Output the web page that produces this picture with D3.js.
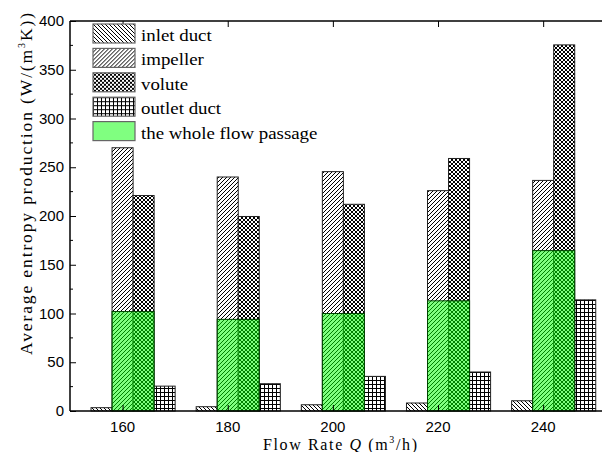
<!DOCTYPE html>
<html>
<head>
<meta charset="utf-8">
<script src="https://cdn.jsdelivr.net/npm/d3@7"></script>
<style>
    body { margin: 0; background: #fff; }
    svg { display: block; }
</style>
</head>
<body>
<svg id="chart" width="602" height="452"></svg>
<script>
/**
 * Chart data
 */
var flowRates = [160, 180, 200, 220, 240];
var inletDuct = [3.4, 4.4, 6.4, 8.2, 10.5];
var impeller = [270, 240, 245.5, 226, 236.5];
var volute = [221, 199.5, 212, 259, 375.5];
var outletDuct = [25.5, 28, 35.5, 40, 114];
var wholePassage = [102, 94, 100, 113, 164.5];
var yTicks = [0, 50, 100, 150, 200, 250, 300, 350, 400];
var legendLabels = ["inlet duct", "impeller", "volute", "outlet duct", "the whole flow passage"];

window.onload = function(){
    drawChart();
};

function drawChart(){
    let svg = d3.select("#chart");

    let left = 70, right = 601, top = 21, bottom = 411;

    // x is flow rate, bars are offset in flow-rate units
    let xScale = d3.scaleLinear()
        .domain([150, 251])
        .range([left, right]);

    let yScale = d3.scaleLinear()
        .domain([0, 400])
        .range([bottom, top]);

    makePatterns(svg);

    // each series: offset of left edge from the category value, bar width 4 units
    let series = [
        {values: inletDuct, offset: -6, fill: "url(#pInlet)"},
        {values: impeller, offset: -2, fill: "url(#pImpeller)"},
        {values: volute, offset: 2, fill: "url(#pVolute)"},
        {values: outletDuct, offset: 6, fill: "url(#pOutlet)"}
    ];
    let barW = 4;

    series.forEach(function(s){
        svg.append("g").selectAll("rect")
            .data(s.values)
            .enter()
            .append("rect")
            .attr("x", function(d, i){ return xScale(flowRates[i] + s.offset); })
            .attr("y", function(d){ return yScale(d); })
            .attr("width", function(d, i){
                return xScale(flowRates[i] + s.offset + barW) - xScale(flowRates[i] + s.offset);
            })
            .attr("height", function(d){ return yScale(0) - yScale(d); })
            .style("fill", s.fill)
            .style("stroke", "#222")
            .style("stroke-width", 1);
    });

    // the whole flow passage, semi transparent green over impeller + volute
    svg.append("g").selectAll("rect")
        .data(wholePassage)
        .enter()
        .append("rect")
        .attr("x", function(d, i){ return xScale(flowRates[i] - 2); })
        .attr("y", function(d){ return yScale(d); })
        .attr("width", function(d, i){ return xScale(flowRates[i] + 6) - xScale(flowRates[i] - 2); })
        .attr("height", function(d){ return yScale(0) - yScale(d); })
        .style("fill", "#00ff00")
        .style("fill-opacity", 0.5)
        .style("stroke", "#004400")
        .style("stroke-width", 1);

    drawAxes(svg, xScale, yScale, left, right, top, bottom);
    drawLegend(svg);
}

function makePatterns(svg){
    let defs = svg.append("defs");
    let s = 4;

    let p1 = defs.append("pattern").attr("id", "pInlet")
        .attr("patternUnits", "userSpaceOnUse").attr("width", s).attr("height", s);
    p1.append("rect").attr("width", s).attr("height", s).attr("fill", "#fff");
    p1.append("path").attr("d", "M-1,-1 l2,2 M0,0 l4,4 M3,3 l2,2")
        .attr("stroke", "#000").attr("stroke-width", 1);

    let p2 = defs.append("pattern").attr("id", "pImpeller")
        .attr("patternUnits", "userSpaceOnUse").attr("width", s).attr("height", s);
    p2.append("rect").attr("width", s).attr("height", s).attr("fill", "#fff");
    p2.append("path").attr("d", "M-1,1 l2,-2 M0,4 l4,-4 M3,5 l2,-2")
        .attr("stroke", "#000").attr("stroke-width", 1);

    let p3 = defs.append("pattern").attr("id", "pVolute")
        .attr("patternUnits", "userSpaceOnUse").attr("width", s).attr("height", s);
    p3.append("rect").attr("width", s).attr("height", s).attr("fill", "#fff");
    p3.append("path").attr("d", "M-1,-1 l2,2 M0,0 l4,4 M3,3 l2,2 M-1,1 l2,-2 M0,4 l4,-4 M3,5 l2,-2")
        .attr("stroke", "#000").attr("stroke-width", 1);

    let p4 = defs.append("pattern").attr("id", "pOutlet")
        .attr("patternUnits", "userSpaceOnUse").attr("width", s).attr("height", s);
    p4.append("rect").attr("width", s).attr("height", s).attr("fill", "#fff");
    p4.append("path").attr("d", "M0,0.5 h4 M0.5,0 v4")
        .attr("stroke", "#000").attr("stroke-width", 1);
}

function drawAxes(svg, xScale, yScale, left, right, top, bottom){
    // y axis with inward ticks
    let yAxis = d3.axisRight(yScale)
        .tickValues(yTicks)
        .tickSize(6)
        .tickFormat("");
    let yg = svg.append("g").attr("transform", `translate(${left},0)`).call(yAxis);
    yg.select(".domain").remove();

    let minor = d3.range(25, 400, 50);
    svg.append("g").selectAll("line")
        .data(minor)
        .enter()
        .append("line")
        .attr("x1", left).attr("x2", left + 3)
        .attr("y1", function(d){ return yScale(d); })
        .attr("y2", function(d){ return yScale(d); })
        .style("stroke", "#000");

    svg.append("g").selectAll("text")
        .data(yTicks)
        .enter()
        .append("text")
        .attr("x", left - 6)
        .attr("y", function(d){ return yScale(d) + 5; })
        .attr("text-anchor", "end")
        .style("font-family", "'Liberation Sans', Arial, sans-serif")
        .style("font-size", "15px")
        .text(function(d){ return d; });

    // bottom axis with inward ticks
    let xg = svg.append("g").attr("transform", `translate(0,${bottom})`)
        .call(d3.axisTop(xScale).tickValues(flowRates).tickSize(6).tickFormat(""));
    xg.select(".domain").remove();

    // top axis ticks
    let tg = svg.append("g").attr("transform", `translate(0,${top})`)
        .call(d3.axisBottom(xScale).tickValues(flowRates).tickSize(6).tickFormat(""));
    tg.select(".domain").remove();

    svg.append("g").selectAll("text")
        .data(flowRates)
        .enter()
        .append("text")
        .attr("x", function(d){ return xScale(d); })
        .attr("y", bottom + 21)
        .attr("text-anchor", "middle")
        .style("font-family", "'Liberation Sans', Arial, sans-serif")
        .style("font-size", "15px")
        .text(function(d){ return d; });

    // frame lines
    svg.append("line").attr("x1", left).attr("x2", left).attr("y1", top).attr("y2", bottom)
        .style("stroke", "#000").style("stroke-width", 1.5);
    svg.append("line").attr("x1", left).attr("x2", 602).attr("y1", bottom).attr("y2", bottom)
        .style("stroke", "#000").style("stroke-width", 1.5);
    svg.append("line").attr("x1", left).attr("x2", 602).attr("y1", top).attr("y2", top)
        .style("stroke", "#000").style("stroke-width", 1.5);

    // axis titles (spread out like the original serif text)
    let xt = svg.append("text")
        .attr("x", 263)
        .attr("y", 450)
        .attr("textLength", 154)
        .attr("lengthAdjust", "spacing")
        .style("font-family", "'Liberation Serif', 'Times New Roman', serif")
        .style("font-size", "16px");
    xt.append("tspan").text("Flow Rate ");
    xt.append("tspan").style("font-style", "italic").text("Q");
    xt.append("tspan").text(" (m");
    xt.append("tspan").attr("dy", -7).style("font-size", "10px").text("3");
    xt.append("tspan").attr("dy", 7).text("/h)");

    let yt = svg.append("text")
        .attr("transform", "translate(32,184) rotate(-90)")
        .attr("x", -171)
        .attr("textLength", 342)
        .attr("lengthAdjust", "spacing")
        .style("font-family", "'Liberation Serif', 'Times New Roman', serif")
        .style("font-size", "17.5px");
    yt.append("tspan").text("Average entropy production (W/(m");
    yt.append("tspan").attr("dy", -7).style("font-size", "10px").text("3");
    yt.append("tspan").attr("dy", 7).text("K))");
}

function drawLegend(svg){
    let fills = ["url(#pInlet)", "url(#pImpeller)", "url(#pVolute)", "url(#pOutlet)", "#80ff80"];
    let g = svg.append("g");

    let rows = g.selectAll("g")
        .data(legendLabels)
        .enter()
        .append("g")
        .attr("transform", function(d, i){ return `translate(93,${24 + i * 24.4})`; });

    rows.append("rect")
        .attr("width", 42)
        .attr("height", 19)
        .style("fill", function(d, i){ return fills[i]; })
        .style("stroke", "#666")
        .style("stroke-width", 1.2);

    rows.append("text")
        .attr("transform", "translate(48,17) scale(1.11,1)")
        .style("font-family", "'Liberation Serif', 'Times New Roman', serif")
        .style("font-size", "17px")
        .text(function(d){ return d; });
}
</script>
</body>
</html>
